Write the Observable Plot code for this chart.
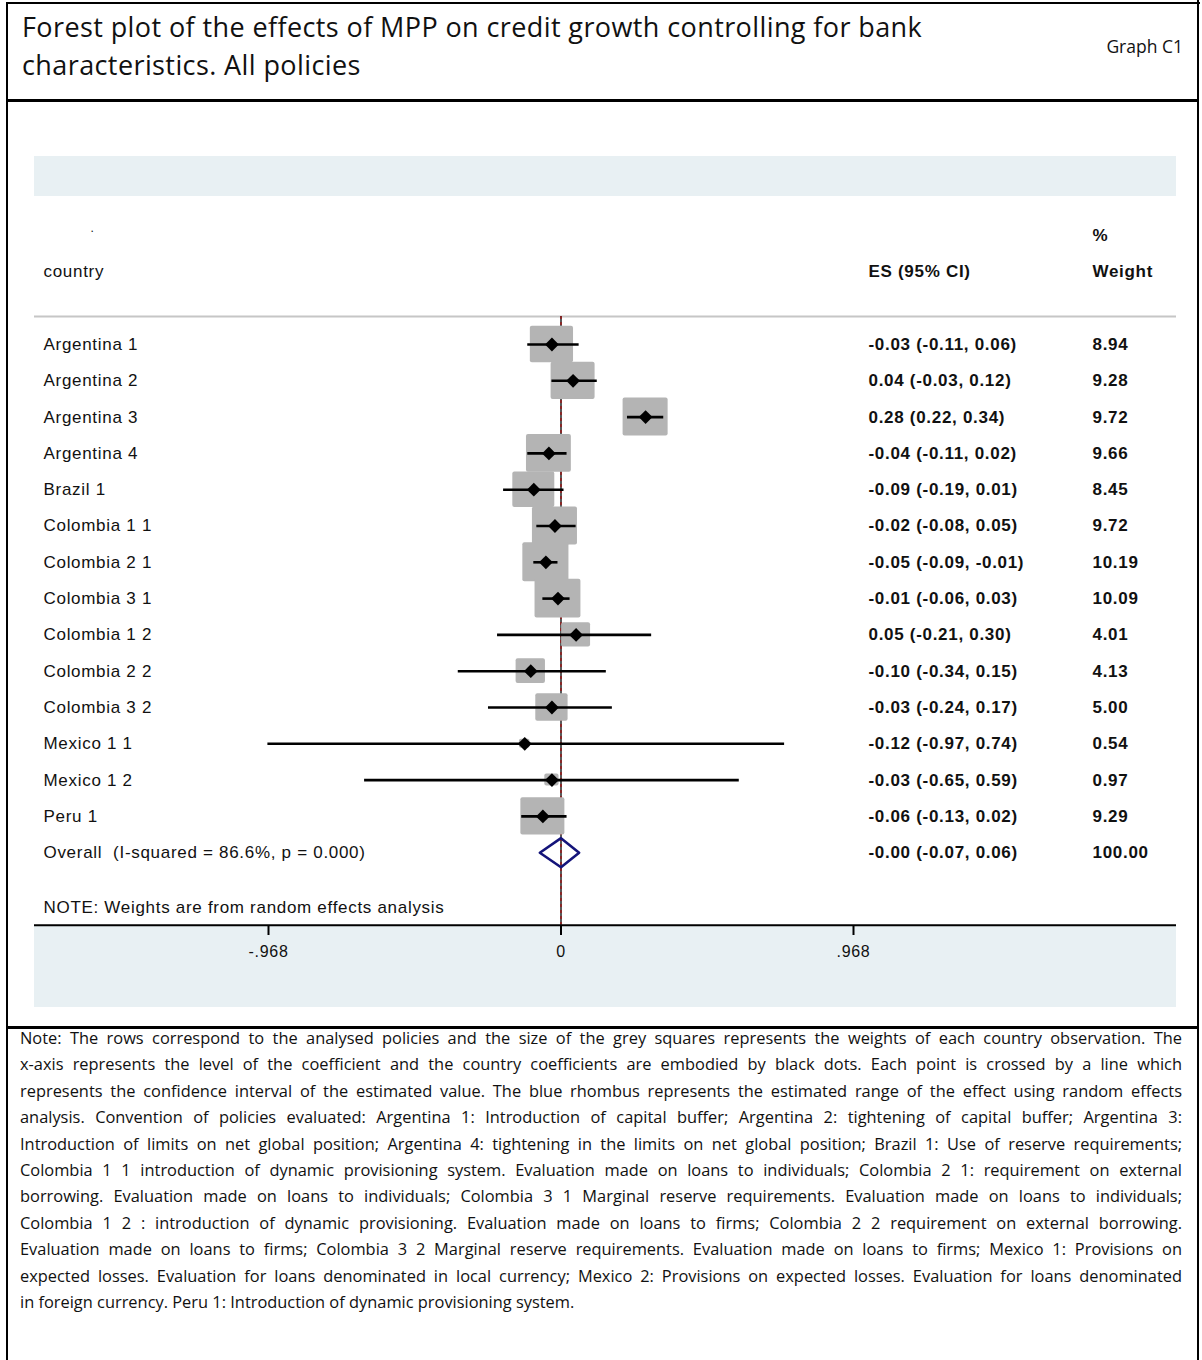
<!DOCTYPE html>
<html>
<head>
<meta charset="utf-8">
<script src="https://cdn.jsdelivr.net/npm/d3@7"></script>
<script src="https://cdn.jsdelivr.net/npm/@observablehq/plot@0.6"></script>
<style>
  body { margin: 0; background: #fff; }
  #page { position: relative; width: 1202px; height: 1360px; overflow: hidden; font-family: "Open Sans", sans-serif; color: #111; }
  .ln { position: absolute; background: #000; }
  .band { position: absolute; background: #e8f0f3; }
  #title { position: absolute; left: 22px; top: 8px; font-size: 27px; line-height: 38px; letter-spacing: 0.4px; white-space: nowrap; }
  #graphno { position: absolute; right: 19px; top: 32px; font-size: 17.5px; line-height: 28px; }
  #chart { position: absolute; left: 0; top: 101px; }
  #note { position: absolute; left: 20px; top: 1025px; width: 1162px; font-size: 16.4px; line-height: 26.4px; }
  #note div { text-align: justify; text-align-last: justify; white-space: normal; }
  #note div.last { text-align-last: left; }
  #chart svg text { white-space: pre; letter-spacing: 0.7px; }
</style>
</head>
<body>
<div id="page">
  <div class="ln" style="left:6px;top:2px;width:1194px;height:2px"></div>
  <div class="ln" style="left:6px;top:2px;width:2px;height:1360px"></div>
  <div class="ln" style="left:1197px;top:0px;width:2px;height:1360px"></div>
  <div class="ln" style="left:6px;top:99px;width:1193px;height:2.5px"></div>
  <div class="ln" style="left:6px;top:1026px;width:1193px;height:2.5px"></div>
  <div class="band" style="left:34px;top:156px;width:1142px;height:40px"></div>
  <div class="band" style="left:34px;top:925px;width:1142px;height:82px"></div>
  <div id="title">Forest plot of the effects of MPP on credit growth controlling for bank<br>characteristics. All policies</div>
  <div id="graphno">Graph C1</div>
  <div id="chart"></div>
  <div id="note"></div>
</div>
<script>
// ---- data ----
const countries = ["Argentina 1","Argentina 2","Argentina 3","Argentina 4","Brazil 1",
  "Colombia 1 1","Colombia 2 1","Colombia 3 1","Colombia 1 2","Colombia 2 2","Colombia 3 2",
  "Mexico 1 1","Mexico 1 2","Peru 1"];
const es     = [-0.03, 0.04, 0.28, -0.04, -0.09, -0.02, -0.05, -0.01, 0.05, -0.10, -0.03, -0.12, -0.03, -0.06];
const lo     = [-0.11, -0.03, 0.22, -0.11, -0.19, -0.08, -0.09, -0.06, -0.21, -0.34, -0.24, -0.97, -0.65, -0.13];
const hi     = [0.06, 0.12, 0.34, 0.02, 0.01, 0.05, -0.01, 0.03, 0.30, 0.15, 0.17, 0.74, 0.59, 0.02];
const weight = [8.94, 9.28, 9.72, 9.66, 8.45, 9.72, 10.19, 10.09, 4.01, 4.13, 5.00, 0.54, 0.97, 9.29];

const overallLabel = "Overall  (I-squared = 86.6%, p = 0.000)";
const overallES = -0.00, overallLo = -0.07, overallHi = 0.06, overallWeight = 100.00;

const xTicks = [-0.968, 0, 0.968];
const headerCountry = "country", headerES = "ES (95% CI)", headerPct = "%", headerWeight = "Weight";
const footNote = "NOTE: Weights are from random effects analysis";

const noteLines = [
  "Note: The rows correspond to the analysed policies and the size of the grey squares represents the weights of each country observation. The",
  "x-axis represents the level of the coefficient and the country coefficients are embodied by black dots. Each point is crossed by a line which",
  "represents the confidence interval of the estimated value. The blue rhombus represents the estimated range of the effect using random effects",
  "analysis. Convention of policies evaluated: Argentina 1: Introduction of capital buffer; Argentina 2: tightening of capital buffer; Argentina 3:",
  "Introduction of limits on net global position; Argentina 4: tightening in the limits on net global position; Brazil 1: Use of reserve requirements;",
  "Colombia 1 1 introduction of dynamic provisioning system. Evaluation made on loans to individuals; Colombia 2 1: requirement on external",
  "borrowing. Evaluation made on loans to individuals; Colombia 3 1 Marginal reserve requirements. Evaluation made on loans to individuals;",
  "Colombia 1 2 : introduction of dynamic provisioning. Evaluation made on loans to firms; Colombia 2 2 requirement on external borrowing.",
  "Evaluation made on loans to firms; Colombia 3 2 Marginal reserve requirements. Evaluation made on loans to firms; Mexico 1: Provisions on",
  "expected losses. Evaluation for loans denominated in local currency; Mexico 2: Provisions on expected losses. Evaluation for loans denominated",
  "in foreign currency. Peru 1: Introduction of dynamic provisioning system."
];

// ---- helpers ----
const f2 = v => ((v < 0 || Object.is(v, -0)) ? "-" : "") + Math.abs(v).toFixed(2);
const esText = (e, l, h) => `${f2(e)} (${f2(l)}, ${f2(h)})`;
const tickFmt = d => d === 0 ? "0" : (d < 0 ? "-" : "") + String(Math.abs(d)).replace(/^0/, "");

const rows = countries.map((c, i) => ({country: c, es: es[i], lo: lo[i], hi: hi[i], w: weight[i], row: i}));
const overallRow = rows.length;
const allRows = [...rows, {country: overallLabel, es: overallES, lo: overallLo, hi: overallHi, w: overallWeight, row: overallRow}];

// layout rows (in row units)
const pctRow = -3, headRow = -2, dotRow = -3.2, sepRow = -0.77, noteRow = overallRow + 1.51, axisRow = overallRow + 2;

// box size ~ sqrt(weight)
const bw = 0.0239, bh = 0.168;
const diamond = [
  {x: overallLo, y: overallRow},
  {x: overallES, y: overallRow - 0.4},
  {x: overallHi, y: overallRow},
  {x: overallES, y: overallRow + 0.4}
];

const FONT = "'Liberation Sans', Arial, sans-serif";
const colES = 834, colW = 1058, colC = 9;
const FS = 17;

const chart = Plot.plot({
  width: 1202,
  height: 926,
  marginLeft: 34,
  marginRight: 26,
  marginTop: 20,
  marginBottom: 102,
  style: {background: "transparent", fontFamily: FONT, overflow: "visible"},
  x: {domain: [-0.968, 0.968], range: [268, 853], axis: null},
  y: {domain: [0, overallRow], range: [243, 243 + 36.3 * overallRow], axis: null},
  marks: [
    Plot.ruleY([sepRow], {stroke: "#c6c6c6", strokeWidth: 2}),
    Plot.ruleX([0], {y1: sepRow, y2: axisRow, stroke: "#000", strokeWidth: 1.3}),
    Plot.ruleX([overallES], {y1: sepRow, y2: axisRow, stroke: "#a01010", strokeWidth: 1.3, strokeDasharray: "3,3"}),
    Plot.rect(rows, {
      x1: d => d.es - bw * Math.sqrt(d.w), x2: d => d.es + bw * Math.sqrt(d.w),
      y1: d => d.row - bh * Math.sqrt(d.w), y2: d => d.row + bh * Math.sqrt(d.w),
      fill: "#b4b4b4", rx: 2
    }),
    Plot.ruleY(rows, {y: "row", x1: "lo", x2: "hi", stroke: "#000", strokeWidth: 2.6}),
    Plot.dot(rows, {x: "es", y: "row", symbol: "diamond2", r: 6.2, fill: "#000", stroke: null}),
    Plot.line(diamond, {x: "x", y: "y", curve: "linear-closed", stroke: "#14147a", strokeWidth: 2.6}),
    // text table
    Plot.text([headerPct], {y: [pctRow], text: d => d, frameAnchor: "left", dx: colW, textAnchor: "start", fontSize: FS, fontWeight: "bold"}),
    Plot.text(["."], {y: [dotRow], text: d => d, frameAnchor: "left", dx: 56, textAnchor: "start", fontSize: 12}),
    Plot.text([headerCountry], {y: [headRow], text: d => d, frameAnchor: "left", dx: colC, textAnchor: "start", fontSize: FS}),
    Plot.text([headerES], {y: [headRow], text: d => d, frameAnchor: "left", dx: colES, textAnchor: "start", fontSize: FS, fontWeight: "bold"}),
    Plot.text([headerWeight], {y: [headRow], text: d => d, frameAnchor: "left", dx: colW, textAnchor: "start", fontSize: FS, fontWeight: "bold"}),
    Plot.text(allRows, {y: "row", text: "country", frameAnchor: "left", dx: colC, textAnchor: "start", fontSize: FS}),
    Plot.text(allRows, {y: "row", text: d => esText(d.es, d.lo, d.hi), frameAnchor: "left", dx: colES, textAnchor: "start", fontSize: FS, fontWeight: "bold"}),
    Plot.text(allRows, {y: "row", text: d => d.w.toFixed(2), frameAnchor: "left", dx: colW, textAnchor: "start", fontSize: FS, fontWeight: "bold"}),
    Plot.text([footNote], {y: [noteRow], text: d => d, frameAnchor: "left", dx: colC, textAnchor: "start", fontSize: FS}),
    // axis
    Plot.ruleY([axisRow], {stroke: "#000", strokeWidth: 2}),
    Plot.axisX(xTicks, {anchor: "bottom", tickFormat: tickFmt, tickSize: 10, tickPadding: 10, fontSize: 16, strokeWidth: 2, stroke: "#000", label: null})
  ]
});
document.getElementById("chart").appendChild(chart);

const note = document.getElementById("note");
noteLines.forEach((t, i) => {
  const d = document.createElement("div");
  d.textContent = t;
  if (i === noteLines.length - 1) d.className = "last";
  note.appendChild(d);
});
</script>
</body>
</html>
